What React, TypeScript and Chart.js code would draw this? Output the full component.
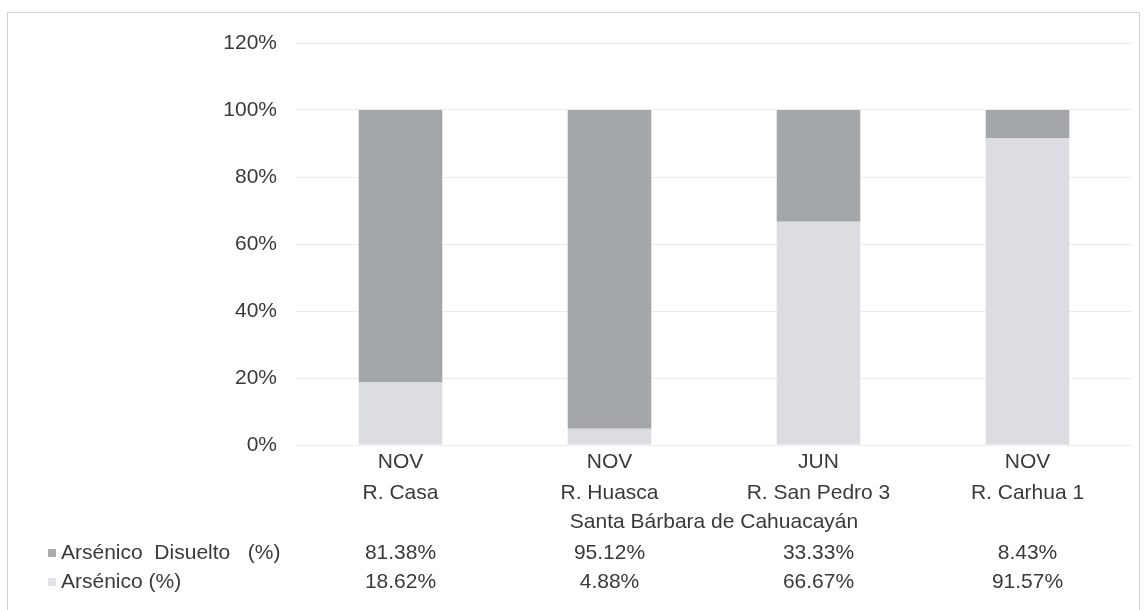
import React, { useEffect, useRef } from "react";
import { Chart, registerables } from "chart.js";

Chart.register(...registerables);

const months = ["NOV", "NOV", "JUN", "NOV"];
const sites = ["R. Casa", "R. Huasca", "R. San Pedro 3", "R. Carhua 1"];
const groupTitle = "Santa Bárbara de Cahuacayán";
const disueltoValues = [81.38, 95.12, 33.33, 8.43];
const arsenicoValues = [18.62, 4.88, 66.67, 91.57];
const disueltoLabel = "Arsénico  Disuelto   (%)";
const arsenicoLabel = "Arsénico (%)";
const yMin = 0;
const yMax = 120;
const yStep = 20;

const FONT = "'Liberation Sans', Arial, sans-serif";
const TEXT = "#3a3a3a";
const DARK = "#a4a7aa";
const LIGHT = "#dcdde2";

const tablePlugin = {
  id: "dataTable",
  beforeDraw(chart: any) {
    const ctx = chart.ctx;
    ctx.save();
    ctx.strokeStyle = "#d2d2d2";
    ctx.lineWidth = 1;
    ctx.strokeRect(7.5, 12.5, chart.width - 15, chart.height);
    ctx.restore();
  },
  afterDraw(chart: any) {
    const ctx = chart.ctx;
    const xs = chart.scales.x;
    const rows = [
      { label: disueltoLabel, values: disueltoValues, swatch: "#a9abae" },
      { label: arsenicoLabel, values: arsenicoValues, swatch: "#e2e3e7" },
    ];
    const y0 = xs.bottom + 17;
    const rowH = 29;
    ctx.save();
    ctx.font = `21px ${FONT}`;
    ctx.textBaseline = "middle";
    rows.forEach((r, ri) => {
      const y = y0 + ri * rowH;
      ctx.fillStyle = r.swatch;
      ctx.fillRect(48, y - 4, 8, 8);
      ctx.fillStyle = TEXT;
      ctx.textAlign = "left";
      ctx.fillText(r.label, 61, y);
      ctx.textAlign = "center";
      r.values.forEach((v, i) => {
        ctx.fillText(v.toFixed(2) + "%", xs.getPixelForValue(i), y);
      });
    });
    ctx.restore();
  },
};

export default function App() {
  const ref = useRef<HTMLCanvasElement>(null);
  useEffect(() => {
    document.body.style.margin = "0";
    const canvas = ref.current!;
    const labels = months.map((m, i) => [m, sites[i]]);
    const chart = new Chart(canvas, {
      type: "bar",
      data: {
        labels,
        datasets: [
          {
            label: arsenicoLabel,
            data: arsenicoValues,
            backgroundColor: LIGHT,
            barPercentage: 0.4,
            categoryPercentage: 1.0,
          },
          {
            label: disueltoLabel,
            data: disueltoValues,
            backgroundColor: DARK,
            barPercentage: 0.4,
            categoryPercentage: 1.0,
          },
        ],
      },
      options: {
        animation: false,
        responsive: false,
        layout: { padding: { left: 0, right: 15, top: 43, bottom: 74 } },
        plugins: {
          legend: { display: false },
          tooltip: { enabled: false },
        },
        scales: {
          x: {
            stacked: true,
            grid: { display: false, drawTicks: false },
            border: { display: false },
            ticks: {
              color: TEXT,
              font: { family: FONT, size: 21, lineHeight: 1.48 },
              padding: 2,
              maxRotation: 0,
              autoSkip: false,
            },
            title: {
              display: true,
              text: groupTitle,
              color: TEXT,
              font: { family: FONT, size: 21, lineHeight: 1.2 },
              padding: { top: 0, bottom: 1 },
            },
            afterFit: (s: any) => {
              s.height = 91;
            },
          },
          y: {
            stacked: true,
            min: yMin,
            max: yMax,
            grid: { color: "#ececec", drawTicks: false },
            border: { display: false },
            ticks: {
              stepSize: yStep,
              color: TEXT,
              font: { family: FONT, size: 21 },
              padding: 19,
              callback: (v: any) => v + "%",
            },
            afterFit: (s: any) => {
              s.width = 296;
            },
          },
        },
      },
      plugins: [tablePlugin],
    });
    return () => chart.destroy();
  }, []);
  return <canvas ref={ref} width={1147} height={610} style={{ display: "block" }} />;
}
